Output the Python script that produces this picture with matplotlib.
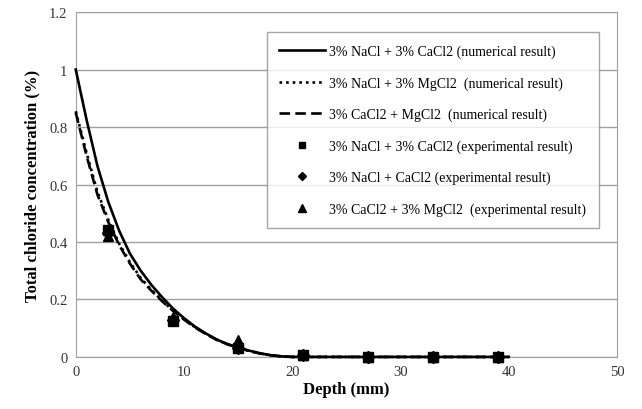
import matplotlib
matplotlib.use("Agg")
import matplotlib.pyplot as plt
import numpy as np

# depth (mm) for the numerical curves
depth_num = [0, 1, 2, 3, 4, 5, 6, 7, 8, 9, 10, 11, 12, 13, 14, 15, 16, 17, 18, 19, 20, 25, 30, 35, 40]
nacl_cacl2_num = [1.00, 0.825, 0.665, 0.54, 0.44, 0.36, 0.30, 0.25, 0.207, 0.168, 0.135, 0.106, 0.082,
                  0.061, 0.045, 0.033, 0.022, 0.013, 0.006, 0.002, 0.0, 0.0, 0.0, 0.0, 0.0]
nacl_mgcl2_num = [0.855, 0.71, 0.575, 0.478, 0.395, 0.33, 0.275, 0.233, 0.195, 0.161, 0.131, 0.104, 0.081,
                  0.060, 0.044, 0.032, 0.021, 0.012, 0.006, 0.002, 0.0, 0.0, 0.0, 0.0, 0.0]
cacl2_mgcl2_num = [0.85, 0.70, 0.565, 0.47, 0.39, 0.325, 0.27, 0.23, 0.193, 0.16, 0.13, 0.103, 0.080,
                   0.060, 0.044, 0.032, 0.021, 0.012, 0.006, 0.002, 0.0, 0.0, 0.0, 0.0, 0.0]

# experimental points
depth_exp = [3, 9, 15, 21, 27, 33, 39]
nacl_cacl2_exp = [0.44, 0.125, 0.03, 0.005, 0.0, 0.0, 0.0]
nacl_cacl2b_exp = [0.43, 0.13, 0.03, 0.005, 0.0, 0.0, 0.0]
cacl2_mgcl2_exp = [0.42, 0.14, 0.06, 0.005, 0.0, 0.0, 0.0]

plt.rcParams['font.family'] = ['Liberation Serif', 'DejaVu Serif']

fig = plt.figure(figsize=(6.42, 4.10), dpi=100)
ax = fig.add_axes([0.118, 0.127, 0.843, 0.841])

ax.plot(depth_num, nacl_cacl2_num, color='black', lw=1.9, ls='-', clip_on=False, zorder=3,
        label='3% NaCl + 3% CaCl2 (numerical result)')
ax.plot(depth_num, nacl_mgcl2_num, color='black', lw=1.9, ls=(0, (1, 1.5)), clip_on=False, zorder=3,
        label='3% NaCl + 3% MgCl2  (numerical result)')
ax.plot(depth_num, cacl2_mgcl2_num, color='black', lw=1.9, ls=(0, (4, 2)), clip_on=False, zorder=3,
        label='3% CaCl2 + MgCl2  (numerical result)')
ax.plot(depth_exp, nacl_cacl2_exp, ls='none', marker='s', color='black', ms=6.5, clip_on=False, zorder=4,
        label='3% NaCl + 3% CaCl2 (experimental result)')
ax.plot(depth_exp, nacl_cacl2b_exp, ls='none', marker='D', color='black', ms=6, clip_on=False, zorder=4,
        label='3% NaCl + CaCl2 (experimental result)')
ax.plot(depth_exp, cacl2_mgcl2_exp, ls='none', marker='^', color='black', ms=7, clip_on=False, zorder=4,
        label='3% CaCl2 + 3% MgCl2  (experimental result)')

ax.set_xlim(0, 50)
ax.set_ylim(0, 1.2)
ax.set_xticks(np.arange(0, 51, 10))
ax.set_yticks(np.arange(0, 1.21, 0.2))
ax.set_yticklabels(['0', '0.2', '0.4', '0.6', '0.8', '1', '1.2'])
ax.tick_params(length=0, labelsize=10.5, pad=6, colors='#333333')
ax.yaxis.grid(True, color='#a0a0a0', lw=1)
ax.set_axisbelow(True)
for s in ax.spines.values():
    s.set_color('#a0a0a0')

ax.set_xlabel('Depth (mm)', fontsize=12, fontweight='bold', labelpad=2)
ax.set_ylabel('Total chloride concentration (%)', fontsize=12, fontweight='bold', labelpad=6)

leg = ax.legend(loc='upper left', bbox_to_anchor=(0.353, 0.942), borderaxespad=0, fontsize=10,
                frameon=True, fancybox=False, edgecolor='#909090', handlelength=3.3,
                labelspacing=1.3, borderpad=0.9, handletextpad=0.3, markerscale=0.75)
leg.get_frame().set_linewidth(1)

fig.savefig('out.png', dpi=100)
